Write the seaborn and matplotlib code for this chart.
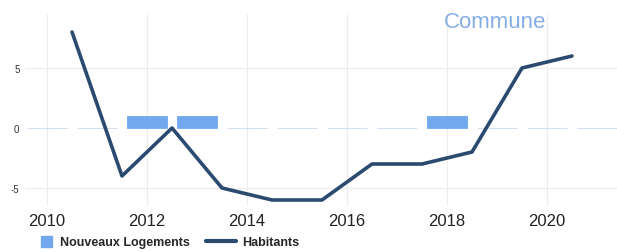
import matplotlib
matplotlib.use("Agg")
import matplotlib.pyplot as plt
import seaborn as sns
import pandas as pd
from matplotlib.patches import Patch
from matplotlib.lines import Line2D

# Data
bar_years = [2010, 2011, 2012, 2013, 2014, 2015, 2016, 2017, 2018, 2019, 2020, 2021]
logements = [0, 0, 1, 1, 0, 0, 0, 0, 1, 0, 0, 0]
line_years = [2010.5, 2011.5, 2012.5, 2013.5, 2014.5, 2015.5, 2016.5, 2017.5, 2018.5, 2019.5, 2020.5]
habitants = [8, -4, 0, -5, -6, -6, -3, -3, -2, 5, 6]
xticks = [2010, 2012, 2014, 2016, 2018, 2020]
yticks = [-5, 0, 5]
title = "Commune"

sns.set_theme(style="white")
plt.rcParams['font.family'] = ['Liberation Sans', 'DejaVu Sans']

bar_color = "#72a9ee"
line_color = "#2b4a70"
grid_color = "#ececec"

fig = plt.figure(figsize=(6.17, 2.53), dpi=100)
ax = fig.add_axes([25 / 617, (253 - 207) / 253, 592 / 617, 192 / 253])

df_b = pd.DataFrame({"year": bar_years, "val": logements})
df_l = pd.DataFrame({"year": line_years, "val": habitants})

for xt in xticks:
    ax.axvline(xt, color=grid_color, lw=0.8, zorder=0)
for yt in [-5, 5]:
    ax.axhline(yt, color=grid_color, lw=0.8, zorder=0)

sns.barplot(data=df_b, x="year", y="val", native_scale=True, ax=ax,
            color=bar_color, width=0.8, edgecolor="#c9d9ec", linewidth=0.6,
            saturation=1, zorder=2)
for p, v in zip(ax.patches, logements):
    if v != 0:
        p.set_edgecolor(bar_color)

sns.lineplot(data=df_l, x="year", y="val", ax=ax, color=line_color,
             linewidth=2.6, zorder=3)

ax.set_xlim(2009.56, 2021.4)
ax.set_ylim(-6.5, 9.5)
ax.set_xticks(xticks)
ax.set_xticklabels([str(x) for x in xticks], fontsize=12, color="#222222")
ax.set_yticks(yticks)
ax.set_yticklabels([str(y) for y in yticks], fontsize=7, color="#333333")
ax.tick_params(axis="x", length=0, pad=5)
ax.tick_params(axis="y", length=0, pad=4)
ax.set_xlabel("")
ax.set_ylabel("")
for s in ax.spines.values():
    s.set_visible(False)
ax.grid(False)

fig.text(495 / 617, 1 - 23 / 253, title, fontsize=16, color="#86aee6",
         ha="center", va="center")

leg_y = 1 - 243 / 253
h1 = [Patch(facecolor=bar_color, edgecolor=bar_color, label="Nouveaux Logements")]
h2 = [Line2D([0], [0], color=line_color, lw=3, label="Habitants")]
fig.legend(handles=h1, loc="center left", bbox_to_anchor=(41 / 617, leg_y),
           frameon=False, prop={"weight": "bold", "size": 9},
           handlelength=0.9, handleheight=1.0, handletextpad=0.6,
           borderaxespad=0, borderpad=0)
fig.legend(handles=h2, loc="center left", bbox_to_anchor=(206 / 617, leg_y),
           frameon=False, prop={"weight": "bold", "size": 9},
           handlelength=2.4, handletextpad=0.5,
           borderaxespad=0, borderpad=0)

fig.savefig("out.png", dpi=100)
